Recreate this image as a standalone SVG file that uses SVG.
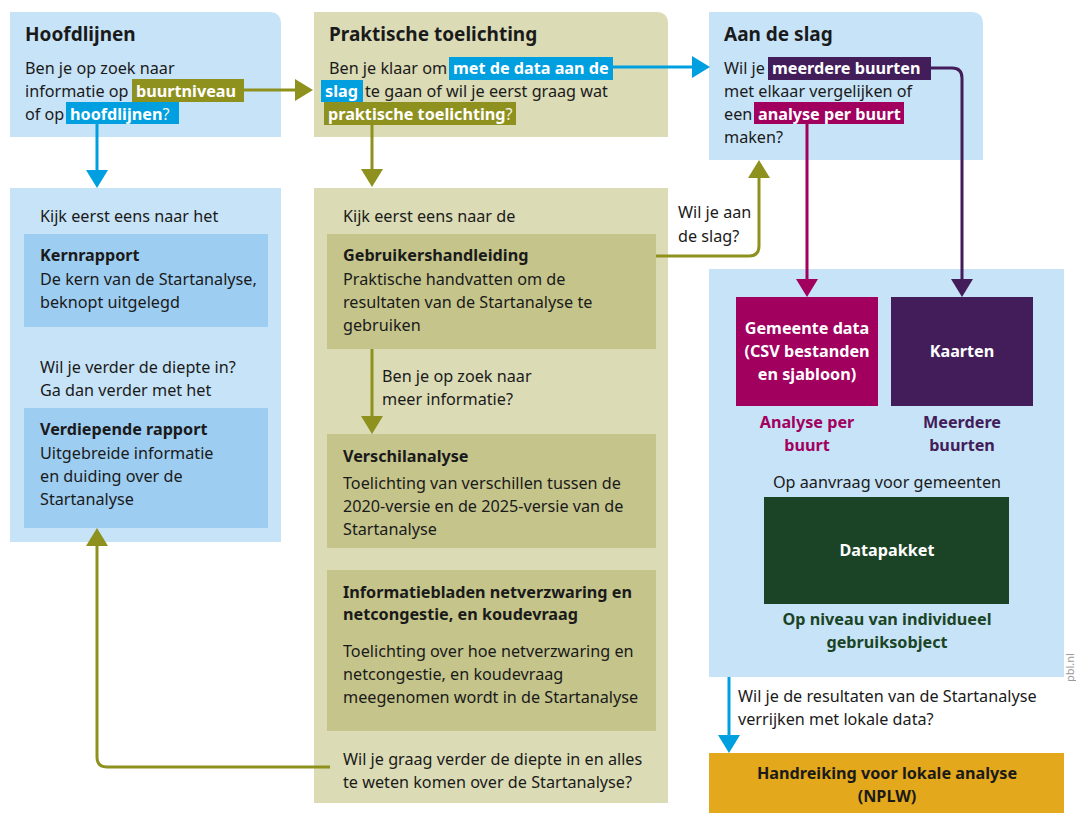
<svg xmlns="http://www.w3.org/2000/svg" width="1076" height="813" viewBox="0 0 1076 813">
<defs>
<style>
text{font-family:"Noto Sans","Liberation Sans",Arial,sans-serif;fill:#1a1a1a;font-size:16.2px}
.t{font-size:19px;font-weight:bold}
.b{font-weight:bold}
.w{fill:#fff;font-weight:bold}
.q{fill:#f2f2e6}
.c{text-anchor:middle}
.lb{fill:#c7e3f7}
.mb{fill:#9dcdf1}
.lo{fill:#dbdbb5}
.mo{fill:#c4c48b}
.conn{fill:none;stroke-width:3}
</style>
<marker id="ah-olive" markerUnits="userSpaceOnUse" markerWidth="20" markerHeight="22" refX="8" refY="11" orient="auto"><path d="M0,0 L18,11 L0,22 z" fill="#8f911e"/></marker>
<marker id="ah-blue" markerUnits="userSpaceOnUse" markerWidth="20" markerHeight="22" refX="8" refY="11" orient="auto"><path d="M0,0 L18,11 L0,22 z" fill="#009fe0"/></marker>
<marker id="ah-purple" markerUnits="userSpaceOnUse" markerWidth="20" markerHeight="22" refX="8" refY="11" orient="auto"><path d="M0,0 L18,11 L0,22 z" fill="#421d5a"/></marker>
<marker id="ah-mag" markerUnits="userSpaceOnUse" markerWidth="20" markerHeight="22" refX="8" refY="11" orient="auto"><path d="M0,0 L18,11 L0,22 z" fill="#a1005f"/></marker>
</defs>
<rect width="1076" height="813" fill="#fff"/>

<g id="hoofdlijnen">
<path class="lb" d="M10,12 H269 Q281,12 281,24 V137 H10 Z"/>
<text class="t" x="25" y="41">Hoofdlijnen</text>
<text x="25" y="74">Ben je op zoek naar</text>
<text x="25" y="97">informatie op</text>
<rect x="132" y="79" width="112" height="23" fill="#8f911e"/>
<text class="w" x="136" y="97">buurtniveau</text>
<text x="25" y="120">of op</text>
<rect x="66" y="102" width="113" height="22" fill="#009fe0"/>
<text x="70" y="120"><tspan class="w">hoofdlijnen</tspan><tspan class="q">?</tspan></text>
</g>

<g id="praktische-toelichting">
<path class="lo" d="M314,12 H656 Q668,12 668,24 V137 H314 Z"/>
<text class="t" x="329" y="41">Praktische toelichting</text>
<text x="329" y="74">Ben je klaar om</text>
<rect x="449" y="57" width="164" height="23" fill="#009fe0"/>
<text class="w" x="453" y="74">met de data aan de</text>
<rect x="321" y="80" width="42" height="22" fill="#009fe0"/>
<text class="w" x="325" y="97">slag</text>
<text x="365" y="97">te gaan of wil je eerst graag wat</text>
<rect x="324" y="102" width="192" height="23" fill="#8f911e"/>
<text x="328" y="120"><tspan class="w">praktische toelichting</tspan><tspan class="q">?</tspan></text>
</g>

<g id="aan-de-slag">
<path class="lb" d="M709,12 H971 Q983,12 983,24 V160 H709 Z"/>
<text class="t" x="724" y="41">Aan de slag</text>
<text x="724" y="74">Wil je</text>
<rect x="768" y="57" width="163" height="23" fill="#421d5a"/>
<text class="w" x="772" y="74">meerdere buurten</text>
<text x="724" y="97">met elkaar vergelijken of</text>
<text x="724" y="120">een</text>
<rect x="754" y="102" width="150" height="22" fill="#a1005f"/>
<text class="w" x="758" y="120">analyse per buurt</text>
<text x="724" y="143">maken?</text>
</g>

<g id="rapporten">
<rect class="lb" x="10" y="188" width="271" height="354"/>
<text x="40" y="222">Kijk eerst eens naar het</text>
<text x="40" y="373">Wil je verder de diepte in?</text>
<text x="40" y="396">Ga dan verder met het</text>
</g>
<g id="kernrapport">
<rect class="mb" x="24" y="234" width="244" height="93"/>
<text class="b" x="40" y="261">Kernrapport</text>
<text x="40" y="285">De kern van de Startanalyse,</text>
<text x="40" y="308">beknopt uitgelegd</text>
</g>
<g id="verdiepende-rapport">
<rect class="mb" x="24" y="408" width="244" height="120"/>
<text class="b" x="40" y="435">Verdiepende rapport</text>
<text x="40" y="459">Uitgebreide informatie</text>
<text x="40" y="482">en duiding over de</text>
<text x="40" y="505">Startanalyse</text>
</g>

<g id="toelichting-documenten">
<rect class="lo" x="314" y="188" width="354" height="615"/>
<text x="343" y="222">Kijk eerst eens naar de</text>
<text x="382" y="382">Ben je op zoek naar</text>
<text x="382" y="405">meer informatie?</text>
<text x="343" y="765">Wil je graag verder de diepte in en alles</text>
<text x="343" y="788">te weten komen over de Startanalyse?</text>
</g>
<g id="gebruikershandleiding">
<rect class="mo" x="327" y="234" width="329" height="115"/>
<text class="b" x="343" y="261">Gebruikershandleiding</text>
<text x="343" y="285">Praktische handvatten om de</text>
<text x="343" y="308">resultaten van de Startanalyse te</text>
<text x="343" y="331">gebruiken</text>
</g>
<g id="verschilanalyse">
<rect class="mo" x="327" y="434" width="329" height="114"/>
<text class="b" x="343" y="462">Verschilanalyse</text>
<text x="343" y="489">Toelichting van verschillen tussen de</text>
<text x="343" y="512">2020-versie en de 2025-versie van de</text>
<text x="343" y="535">Startanalyse</text>
</g>
<g id="informatiebladen">
<rect class="mo" x="327" y="570" width="329" height="161"/>
<text class="b" x="343" y="598">Informatiebladen netverzwaring en</text>
<text class="b" x="343" y="620">netcongestie, en koudevraag</text>
<text x="343" y="657">Toelichting over hoe netverzwaring en</text>
<text x="343" y="680">netcongestie, en koudevraag</text>
<text x="343" y="703">meegenomen wordt in de Startanalyse</text>
</g>

<g id="data-producten">
<rect class="lb" x="709" y="269" width="355" height="408"/>
<text class="b c" x="807" y="428" style="fill:#a1005f">Analyse per</text>
<text class="b c" x="807" y="451" style="fill:#a1005f">buurt</text>
<text class="b c" x="962" y="428" style="fill:#421d5a">Meerdere</text>
<text class="b c" x="962" y="451" style="fill:#421d5a">buurten</text>
<text class="c" x="887" y="488">Op aanvraag voor gemeenten</text>
<text class="b c" x="887" y="625" style="fill:#1b4426">Op niveau van individueel</text>
<text class="b c" x="887" y="648" style="fill:#1b4426">gebruiksobject</text>
</g>
<g id="gemeente-data">
<rect x="736" y="297" width="142" height="109" fill="#a1005f"/>
<text class="w c" x="807" y="334">Gemeente data</text>
<text class="w c" x="807" y="357">(CSV bestanden</text>
<text class="w c" x="807" y="380">en sjabloon)</text>
</g>
<g id="kaarten">
<rect x="891" y="297" width="142" height="109" fill="#421d5a"/>
<text class="w c" x="962" y="357">Kaarten</text>
</g>
<g id="datapakket">
<rect x="764" y="497" width="245" height="107" fill="#1b4426"/>
<text class="w c" x="887" y="556">Datapakket</text>
</g>
<g id="handreiking">
<rect x="709" y="753" width="355" height="60" fill="#e3a81b"/>
<text class="b c" x="887" y="779">Handreiking voor lokale analyse</text>
<text class="b c" x="887" y="802">(NPLW)</text>
</g>

<g id="connectors">
<path class="conn" stroke="#8f911e" marker-end="url(#ah-olive)" d="M244,90 H303"/>
<path class="conn" stroke="#009fe0" marker-end="url(#ah-blue)" d="M97,124 V178"/>
<path class="conn" stroke="#009fe0" marker-end="url(#ah-blue)" d="M613,67 H700"/>
<path class="conn" stroke="#8f911e" marker-end="url(#ah-olive)" d="M372,125 V177"/>
<path class="conn" stroke="#421d5a" marker-end="url(#ah-purple)" d="M931,68 H952 Q962,68 962,78 V287"/>
<path class="conn" stroke="#a1005f" marker-end="url(#ah-mag)" d="M807,124 V287"/>
<path class="conn" stroke="#8f911e" marker-end="url(#ah-olive)" d="M656,256 H749 Q759,256 759,246 V170"/>
<path class="conn" stroke="#8f911e" marker-end="url(#ah-olive)" d="M372,349 V424"/>
<path class="conn" stroke="#8f911e" marker-end="url(#ah-olive)" d="M330,767 H107 Q97,767 97,757 V538"/>
<path class="conn" stroke="#009fe0" marker-end="url(#ah-blue)" d="M729,677 V743"/>
<text x="678" y="218">Wil je aan</text>
<text x="678" y="242">de slag?</text>
<text x="738" y="702">Wil je de resultaten van de Startanalyse</text>
<text x="738" y="725">verrijken met lokale data?</text>
</g>

<text transform="translate(1074,682) rotate(-90)" style="font-size:11px;fill:#9a9a9a">pbl.nl</text>
</svg>
